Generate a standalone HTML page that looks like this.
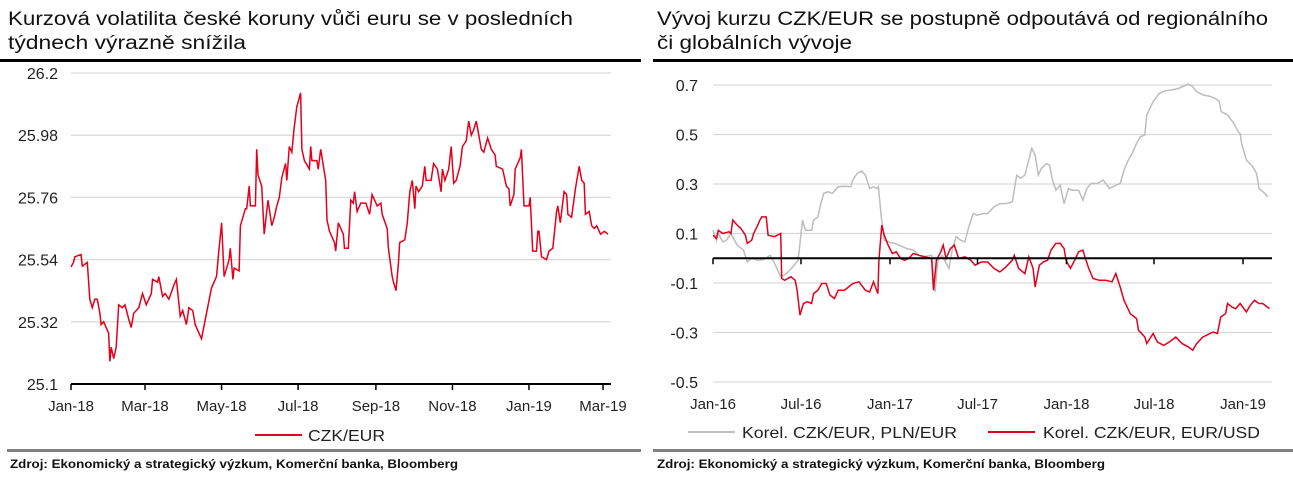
<!DOCTYPE html>
<html><head><meta charset="utf-8"><style>
html,body{margin:0;padding:0;background:#fff;}
svg{display:block;font-family:"Liberation Sans",Arial,sans-serif;}
</style></head><body>
<svg id="root" width="1293" height="485" viewBox="0 0 1293 485">
<g>
 <text x="8" y="25" font-size="19" fill="#111" textLength="565" lengthAdjust="spacingAndGlyphs">Kurzová volatilita české koruny vůči euru se v posledních</text>
 <text x="8" y="49" font-size="19" fill="#111" textLength="238" lengthAdjust="spacingAndGlyphs">týdnech výrazně snížila</text>
 <rect x="0" y="59" width="641" height="3" fill="#000"/>
 <g id="leftGrid"></g>
 <g id="leftAxis"></g>
 <path id="leftLine" fill="none" stroke="#e2001a" stroke-width="1.5"/>
 <g>
  <line x1="255" y1="435" x2="302" y2="435" stroke="#e2001a" stroke-width="2"/>
  <text x="308" y="441" font-size="16" fill="#222" textLength="77" lengthAdjust="spacingAndGlyphs">CZK/EUR</text>
 </g>
 <rect x="7" y="449" width="634" height="3" fill="#808080"/>
 <text x="10" y="468" font-size="12" font-weight="bold" fill="#111" textLength="448" lengthAdjust="spacingAndGlyphs">Zdroj: Ekonomický a strategický výzkum, Komerční banka, Bloomberg</text>
</g>
<g>
 <text x="657" y="25" font-size="19" fill="#111" textLength="611" lengthAdjust="spacingAndGlyphs">Vývoj kurzu CZK/EUR se postupně odpoutává od regionálního</text>
 <text x="657" y="49" font-size="19" fill="#111" textLength="195" lengthAdjust="spacingAndGlyphs">či globálních vývoje</text>
 <rect x="653" y="59" width="640" height="3" fill="#000"/>
 <g id="rightGrid"></g>
 <path id="grayLine" fill="none" stroke="#bdbdbd" stroke-width="1.5"/>
 <path id="redLine" fill="none" stroke="#e2001a" stroke-width="1.5"/>
 <g id="rightAxis"></g>
 <g>
  <line x1="688" y1="432" x2="735" y2="432" stroke="#bdbdbd" stroke-width="2"/>
  <text x="742" y="438" font-size="16" fill="#222" textLength="215" lengthAdjust="spacingAndGlyphs">Korel. CZK/EUR, PLN/EUR</text>
  <line x1="988" y1="432" x2="1035" y2="432" stroke="#e2001a" stroke-width="2"/>
  <text x="1043" y="438" font-size="16" fill="#222" textLength="217" lengthAdjust="spacingAndGlyphs">Korel. CZK/EUR, EUR/USD</text>
 </g>
 <rect x="653" y="449" width="640" height="3" fill="#808080"/>
 <text x="657" y="468" font-size="12" font-weight="bold" fill="#111" textLength="448" lengthAdjust="spacingAndGlyphs">Zdroj: Ekonomický a strategický výzkum, Komerční banka, Bloomberg</text>
</g>
</svg>
<script>
// ---- Left chart data (day offset from 1 Jan 2018, CZK/EUR) ----
const leftTicks = ["25.1","25.32","25.54","25.76","25.98","26.2"];
const leftTickVals = [25.1,25.32,25.54,25.76,25.98,26.2];
const leftDateLabels = ["Jan-18","Mar-18","May-18","Jul-18","Sep-18","Nov-18","Jan-19","Mar-19"];
const leftDateDays = [0,59,120,181,243,304,365,424];
const leftDays = [0,2,3,8,9,13,15,17,19,21,23,24,26,30,31,32,34,36,38,41,43,46,48,50,54,57,60,64,65,69,70,73,75,78,82,84,87,89,92,94,97,99,104,108,112,116,118,120,122,126,127,129,130,134,135,139,140,142,143,147,148,149,152,154,157,160,162,164,166,168,171,172,174,176,178,180,183,184,186,190,191,192,196,197,199,203,204,206,210,211,213,217,218,221,223,225,226,228,231,235,238,240,244,247,248,252,253,256,257,259,261,262,266,268,270,272,274,275,277,280,282,283,287,289,292,295,296,298,301,303,305,307,310,312,315,317,319,321,323,327,329,332,335,338,339,344,347,349,350,353,354,358,359,361,365,366,368,371,372,373,375,379,381,384,387,388,390,393,395,396,399,402,405,407,409,410,413,415,417,419,422,425,428];
const leftVals = [25.514,25.53,25.55,25.558,25.517,25.53,25.40,25.37,25.40,25.40,25.35,25.31,25.32,25.28,25.18,25.23,25.19,25.23,25.38,25.37,25.38,25.33,25.30,25.35,25.37,25.42,25.38,25.42,25.47,25.46,25.48,25.41,25.42,25.40,25.45,25.47,25.34,25.36,25.31,25.37,25.36,25.31,25.26,25.35,25.44,25.48,25.58,25.67,25.48,25.54,25.58,25.47,25.51,25.50,25.66,25.72,25.72,25.80,25.73,25.73,25.93,25.84,25.80,25.63,25.75,25.66,25.69,25.73,25.76,25.83,25.88,25.82,25.94,25.92,26.01,26.08,26.13,25.93,25.89,25.86,25.94,25.89,25.89,25.86,25.93,25.82,25.68,25.64,25.60,25.57,25.67,25.63,25.58,25.58,25.75,25.74,25.78,25.71,25.74,25.74,25.70,25.77,25.73,25.74,25.70,25.65,25.58,25.48,25.46,25.43,25.53,25.60,25.61,25.67,25.78,25.82,25.72,25.80,25.78,25.80,25.87,25.82,25.82,25.88,25.86,25.78,25.86,25.82,25.86,25.94,25.81,25.82,25.87,25.94,25.96,26.03,25.98,26.00,26.03,25.93,25.92,25.97,25.93,25.91,25.87,25.86,25.80,25.79,25.73,25.77,25.86,25.90,25.93,25.73,25.73,25.76,25.57,25.57,25.64,25.64,25.55,25.54,25.57,25.58,25.71,25.73,25.67,25.78,25.77,25.70,25.69,25.79,25.87,25.82,25.81,25.70,25.71,25.66,25.65,25.66,25.63,25.64,25.63];

// ---- Right chart data (day offset from 1 Jan 2016, correlations) ----
const rightTicks = ["-0.5","-0.3","-0.1","0.1","0.3","0.5","0.7"];
const rightTickVals = [-0.5,-0.3,-0.1,0.1,0.3,0.5,0.7];
const rightDateLabels = ["Jan-16","Jul-16","Jan-17","Jul-17","Jan-18","Jul-18","Jan-19"];
const rightDateDays = [0,182,366,547,731,912,1096];
const grayDays = [0,7,11,20,28,37,50,63,71,80,92,105,118,127,140,152,165,176,180,185,191,204,208,217,223,229,238,247,259,272,285,289,298,308,315,324,332,339,342,348,354,362,375,384,401,414,426,435,452,459,465,474,482,488,495,503,512,521,529,538,546,559,568,581,593,606,619,628,636,645,653,659,666,673,679,690,696,702,709,718,726,735,743,756,765,773,782,795,807,820,833,842,850,859,867,876,884,893,897,910,923,936,949,962,974,983,992,1000,1013,1026,1039,1047,1051,1064,1077,1086,1090,1094,1103,1116,1124,1129,1137,1141,1147];
const grayVals = [0.113,0.073,0.10,0.066,0.073,0.10,0.053,0.033,-0.015,0.0,-0.008,-0.005,0.012,-0.019,-0.075,-0.062,-0.035,-0.008,0.06,0.154,0.113,0.113,0.154,0.167,0.221,0.262,0.269,0.262,0.289,0.291,0.289,0.316,0.343,0.352,0.336,0.282,0.289,0.282,0.289,0.167,0.073,0.066,0.06,0.053,0.039,0.033,0.012,0.006,0.012,-0.136,-0.008,0.012,-0.021,-0.041,0.039,0.087,0.073,0.066,0.127,0.181,0.174,0.181,0.181,0.208,0.221,0.221,0.228,0.336,0.323,0.336,0.397,0.444,0.417,0.336,0.363,0.383,0.376,0.316,0.275,0.295,0.221,0.282,0.275,0.275,0.235,0.282,0.302,0.302,0.316,0.282,0.295,0.302,0.356,0.397,0.424,0.464,0.491,0.498,0.579,0.633,0.666,0.677,0.680,0.686,0.696,0.704,0.693,0.673,0.660,0.655,0.646,0.633,0.592,0.579,0.545,0.511,0.504,0.457,0.397,0.370,0.343,0.282,0.269,0.262,0.248];
const redDays = [0,7,11,20,33,37,41,50,58,67,71,80,84,91,97,101,110,114,127,140,142,148,161,170,174,180,187,195,204,208,217,225,234,242,251,259,272,289,302,315,324,332,341,343,349,354,362,371,379,388,396,405,414,426,439,452,456,462,471,476,482,491,499,508,521,533,542,555,568,581,593,606,619,623,632,645,653,662,666,675,683,692,699,709,718,726,730,739,748,756,765,769,777,786,799,812,825,833,842,850,863,876,880,893,897,910,919,932,944,957,970,983,992,1000,1013,1021,1034,1043,1050,1060,1064,1073,1081,1090,1103,1111,1120,1129,1137,1146,1151];
const redVals = [0.093,0.080,0.113,0.10,0.107,0.10,0.154,0.134,0.120,0.093,0.060,0.073,0.10,0.127,0.154,0.167,0.167,0.093,0.087,0.100,-0.082,-0.089,-0.075,-0.089,-0.129,-0.230,-0.183,-0.176,-0.183,-0.143,-0.129,-0.102,-0.102,-0.149,-0.163,-0.129,-0.129,-0.102,-0.095,-0.129,-0.136,-0.095,-0.143,-0.008,0.134,0.093,0.053,0.019,0.026,-0.001,-0.008,-0.001,0.019,0.012,0.006,-0.001,-0.129,-0.008,0.026,0.053,-0.001,0.039,0.053,-0.001,0.006,-0.008,-0.028,-0.015,-0.015,-0.041,-0.055,-0.035,-0.008,0.012,-0.041,-0.062,0.006,-0.041,-0.116,-0.028,-0.015,-0.008,0.033,0.060,0.060,0.039,-0.008,-0.041,-0.008,0.026,0.033,0.006,-0.041,-0.082,-0.089,-0.089,-0.095,-0.062,-0.116,-0.170,-0.224,-0.244,-0.291,-0.318,-0.345,-0.304,-0.338,-0.352,-0.338,-0.318,-0.345,-0.358,-0.372,-0.345,-0.318,-0.311,-0.298,-0.304,-0.237,-0.224,-0.183,-0.197,-0.204,-0.183,-0.217,-0.190,-0.170,-0.183,-0.183,-0.197,-0.204];

const NS = "http://www.w3.org/2000/svg";
function mk(tag, attrs, parent){ const e=document.createElementNS(NS,tag); for(const k in attrs) e.setAttribute(k,attrs[k]); parent.appendChild(e); return e; }

// Left axes
const lx = d => 71 + d*(603-71)/424;
const ly = v => 384 - (v-25.1)*(384-73)/1.1;
const lg = document.getElementById('leftGrid');
leftTickVals.forEach((v,i)=>{
  if(i>0){
    const g = mk('line',{x1:71,x2:611,y1:ly(v),y2:ly(v),stroke:'#d9d9d9','stroke-width':1.3},lg);
    
    
  }
  const t = mk('text',{x:58,y:ly(v)+6,'font-size':16,fill:'#222','text-anchor':'end'},lg);
  t.textContent = leftTicks[i];
  
  
});
const la = document.getElementById('leftAxis');
const base = mk('line',{x1:71,x2:611,y1:384,y2:384,stroke:'#000','stroke-width':2},la);


leftDateDays.forEach((d,i)=>{
  const tk = mk('line',{x1:lx(d),x2:lx(d),y1:384,y2:390,stroke:'#000','stroke-width':1.5},la);
  
  
  const t = mk('text',{x:lx(d),y:411,'font-size':15,fill:'#222','text-anchor':'middle'},la);
  t.textContent = leftDateLabels[i];
  
  
});
document.getElementById('leftLine').setAttribute('d', leftDays.map((d,i)=>(i?'L':'M')+lx(d).toFixed(1)+','+ly(leftVals[i]).toFixed(1)).join(''));

// Right axes
const rx = d => 713 + d*(1243-713)/1096;
const ry = v => 85 + (0.7-v)*(382-85)/1.2;
const rg = document.getElementById('rightGrid');
rightTickVals.forEach((v,i)=>{
  const g = mk('line',{x1:713,x2:1272,y1:ry(v),y2:ry(v),stroke:'#d9d9d9','stroke-width':1.3},rg);
  
  
  const t = mk('text',{x:698,y:ry(v)+6,'font-size':16,fill:'#222','text-anchor':'end'},rg);
  t.textContent = rightTicks[i];
  
  
});
const ra = document.getElementById('rightAxis');
const zl = mk('line',{x1:713,x2:1272,y1:ry(0),y2:ry(0),stroke:'#000','stroke-width':2},ra);


rightDateDays.forEach((d,i)=>{
  const tk = mk('line',{x1:rx(d),x2:rx(d),y1:ry(0),y2:ry(0)+6,stroke:'#000','stroke-width':1.5},ra);
  
  
  const t = mk('text',{x:rx(d),y:409,'font-size':15,fill:'#222','text-anchor':'middle'},ra);
  t.textContent = rightDateLabels[i];
  
  
});
document.getElementById('grayLine').setAttribute('d', grayDays.map((d,i)=>(i?'L':'M')+rx(d).toFixed(1)+','+ry(grayVals[i]).toFixed(1)).join(''));
document.getElementById('redLine').setAttribute('d', redDays.map((d,i)=>(i?'L':'M')+rx(d).toFixed(1)+','+ry(redVals[i]).toFixed(1)).join(''));
</script>
</body></html>
